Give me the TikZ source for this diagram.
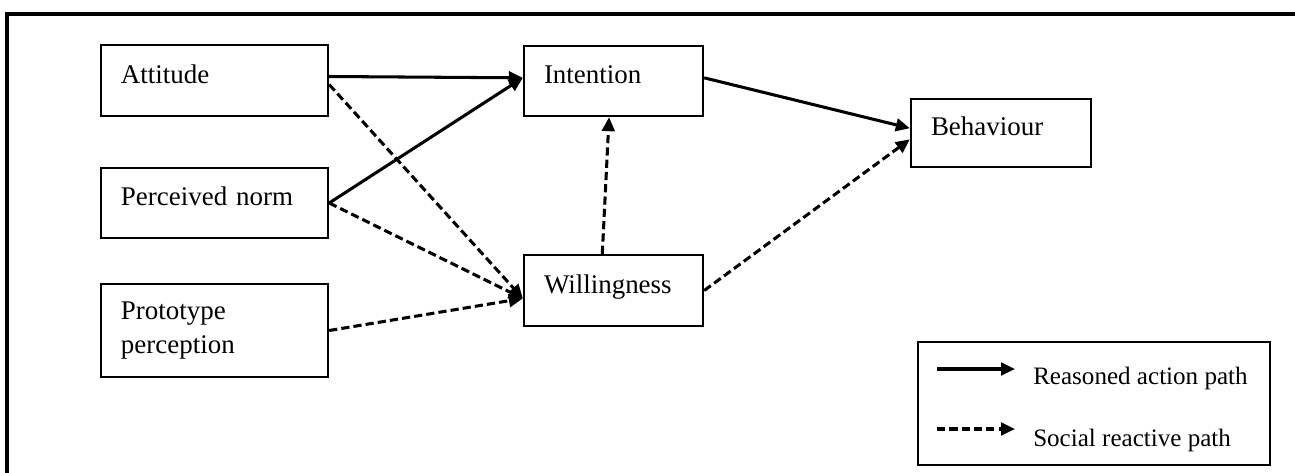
\documentclass[tikz,border=0pt]{standalone}
\usepackage{fontspec}
\setmainfont{Liberation Serif}
\usepackage{tikz}
\usetikzlibrary{arrows.meta,positioning}

\begin{document}
\begin{tikzpicture}[x=0.03cm,y=-0.03cm,
    box/.style={draw,line width=2pt,align=left,inner xsep=0.6cm,inner ysep=0pt,
        font=\fontsize{23}{29}\selectfont},
    oneline/.style={box,text height=0.6cm,text depth=0.45cm},
    reason/.style={line width=2.6pt,-{Triangle[length=0.42cm,width=0.38cm]}},
    social/.style={reason,dash pattern=on 7pt off 3.5pt}]
    \useasboundingbox (0,0) rectangle (1295,472);

    % frame
    \draw[line width=2.6pt] (7,480) -- (7,14) -- (1300,14);

    % antecedents
    \node[oneline,text width=5.61cm,minimum height=2.13cm] (att) at (214.5,80.5) {Attitude};
    \node[oneline,text width=5.61cm,minimum height=2.1cm] (pn) at (214.5,203) {Perceived norm};
    \node[box,text width=5.61cm,minimum height=2.79cm] (proto) at (214.5,330.5) {Prototype\\perception};

    % middle and outcome
    \node[oneline,text width=4.17cm,minimum height=2.1cm] (int) at (613.5,81) {Intention};
    \node[oneline,text width=4.17cm,minimum height=2.13cm] (will) at (613.5,290.5) {Willingness};
    \node[oneline,text width=4.2cm,minimum height=2.04cm] (beh) at (1001,133) {Behaviour};

    % paths
    \draw[reason] (att.2) -- (int.178);
    \draw[reason] (pn.east) -- (int.178);
    \draw[social] (att.-2) -- (will.185);
    \draw[social] (pn.east) -- (will.185);
    \draw[social] (proto.east) -- (will.185);
    \draw[social] (will.107) -- (int.-97);
    \draw[reason] (int.2) -- (beh.177);
    \draw[social] (will.east) -- (beh.184);

    % legend
    \node[draw,line width=2pt,minimum width=10.56cm,minimum height=3.69cm] (key) at (1094,403.5) {};
    \coordinate (k1a) at (937,369);
    \coordinate (k1b) at (1015,369);
    \coordinate (k2a) at (937,429);
    \coordinate (k2b) at (1015,429);
    \draw[reason] (k1a) -- (k1b);
    \draw[social] (k2a) -- (k2b);
    \node[anchor=west,inner sep=0pt,font=\fontsize{21.4}{25}\selectfont] (t1) at (1033,378) {Reasoned action path};
    \node[anchor=west,inner sep=0pt,font=\fontsize{21.4}{25}\selectfont] (t2) at (1033,440) {Social reactive path};
\end{tikzpicture}
\end{document}
